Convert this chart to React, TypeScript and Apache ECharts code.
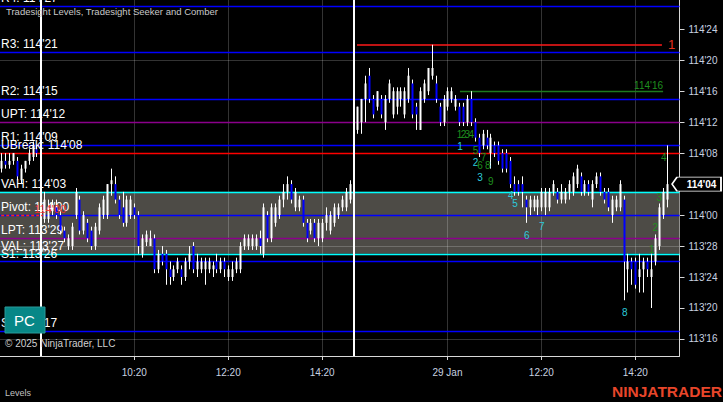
import React, { useEffect, useRef } from "react";
import * as echarts from "echarts";

// Prices are stored as 32nds above the 113 handle (113'00 = 0, 114'00 = 32)
const HANDLE = 113;

const OPEN = [
  38, 39, 38.5, 39, 39, 36.5, 38, 39, 39.5, 40.5,
  null, 31.5, 31.5, 32.5, 33, 32, 30, 28, 28, 32,
  34, 30, 31, 30, 28, 30, 32, 32, 36, 36,
  34, 33, 31, 32, 33, 32, 27, 28.5, 28, 29,
  25, 27, 27, 25, 24, 25, 25, 24, 26, 28,
  25, 25, 25, 25, 25, 26, 25, 26, 24, 24,
  25, 25, 28, 28, 28, 28, 29, 27, 32, 29,
  31, 32, 34, 35, 36, 33, 33, 34, 31, 30,
  31, 29, 29, 31, 30, 31, 32, 33, 33, 34,
  null, 43, 44, 47, 50, 47, 46, 47, 44, 47,
  45, 46, 47, 45, 47, 49, 46, 43, 47, 48,
  50, 49, 46, 44, 46, 47, 46, 46, 46, 44,
  47, 44, 42, 41, 42, 40, 41, 41, 40, 40,
  39, 36, 36, 36, 34, 33, 33, 33, 33, 33,
  33, 35, 35, 34, 34, 35, 35, 36, 37, 35,
  36, 34, 36, 37, 35, 35, 32, 33, 33, 34,
  25, 26, 26, 24, 25, 26, 24, 26, 28, 32,
  34,
];
const HIGH = [
  40, 40, 40, 40, 39.5, 38.5, 39, 40.5, 41.5, 41,
  null, 35, 34, 34, 34, 32.5, 30.5, 29.5, 31, 35.5,
  34.5, 32.5, 31.5, 30.5, 31, 33.5, 34.5, 36, 38, 37,
  34.5, 35, 34.5, 34.5, 33.5, 32.5, 29.5, 30, 30, 29.5,
  27.5, 28, 27.5, 26, 25.5, 26.5, 25.5, 26.5, 28, 28.5,
  27, 26.5, 26.5, 26.5, 26, 27, 26.5, 26.5, 25.5, 26,
  26.5, 28.5, 29.5, 29.5, 29.5, 29.5, 30, 33.5, 32.5, 33.5,
  33.5, 34.5, 36, 37, 36.5, 35.5, 34.5, 34.5, 31.5, 31.5,
  31.5, 31.5, 31.5, 33, 32.5, 33.5, 33.5, 34.5, 35.5, 36.5,
  null, 46, 47, 50, 51, 47.5, 48, 47.5, 47.5, 49.5,
  48.5, 48.5, 48.5, 48.5, 51, 49.5, 46.5, 48.5, 49.5, 51,
  54, 50, 46.5, 47.5, 48.5, 48.5, 47.5, 46.5, 46.5, 47.5,
  48, 44.5, 42.5, 43, 43, 42.5, 41.5, 41.5, 40.5, 40.5,
  39.5, 37, 36.5, 37, 34.5, 34.5, 34.5, 34.5, 35.5, 35.5,
  35.5, 36.5, 35.5, 36, 35.5, 36.5, 37.5, 38.5, 37.5, 36.5,
  36.5, 36.5, 37.5, 37.5, 35.5, 35.5, 34.5, 34.5, 36.5, 34.5,
  27, 26.5, 26.5, 27, 26.5, 26.5, 27, 29.5, 33.5, 35.5,
  41,
];
const LOW = [
  37.5, 38, 38, 38.5, 36.5, 36, 37.5, 38.5, 39, 39.5,
  null, 31, 31, 32, 31.5, 29.5, 28.5, 27.5, 27.5, 31.5,
  29.5, 29.5, 28.5, 27.5, 27.5, 29.5, 31.5, 31.5, 34.5, 33.5,
  31.5, 30.5, 30.5, 31.5, 31.5, 27, 26.5, 28, 28, 24.5,
  24.5, 25.5, 23, 23, 23.5, 24.5, 23, 23.5, 25, 24.5,
  24, 24.5, 23, 24.5, 24, 24.5, 24.5, 24, 23.5, 23.5,
  24.5, 24.5, 27.5, 27.5, 27.5, 27.5, 27, 26.5, 28.5, 28.5,
  30.5, 31.5, 33, 34, 33.5, 32.5, 32.5, 30.5, 28.5, 29.5,
  28.5, 28, 28.5, 30, 29.5, 30.5, 31.5, 32.5, 32.5, 33.5,
  null, 42.5, 42.5, 44, 46.5, 44.5, 45.5, 44.5, 43, 46.5,
  44.5, 45, 46, 44.5, 46.5, 44.5, 43, 43, 46.5, 47.5,
  49.5, 46.5, 43.5, 43.5, 45.5, 46.5, 45.5, 43.5, 43.5, 43.5,
  43.5, 41.5, 39.5, 40.5, 40.5, 38, 39.5, 38.5, 37.5, 37.5,
  35.5, 34.5, 34.5, 33, 31, 32, 32.5, 32, 32.5, 32,
  32.5, 34.5, 33.5, 33.5, 33.5, 34, 34.5, 35.5, 34.5, 34.5,
  34.5, 33, 35.5, 34.5, 33.5, 32.5, 31, 32.5, 32.5, 21,
  22, 23, 22.5, 22, 22, 24, 20, 25.5, 27.5, 31.5,
  33,
];
const CLOSE = [
  39, 38.5, 39, 40, 37, 38, 39, 40, 41, 40,
  null, 34, 33, 33.5, 32, 30, 29, 29, 30.5, 35,
  30, 32, 29, 28, 30.5, 33, 34, 36, 36.5, 34,
  32, 31, 34, 34, 32, 28, 29, 29.5, 29, 25,
  27, 26, 25, 24, 25, 26, 24, 26, 27, 25,
  26, 26, 26, 26, 25.5, 25, 26, 25, 25, 25,
  26, 28, 29, 29, 29, 29, 28, 33, 29, 33,
  33, 34, 35, 36, 34, 35, 34, 31, 29, 31,
  29, 31, 31, 32, 32, 33, 33, 34, 35, 36,
  null, 46, 47, 49, 47, 45, 48, 45, 47, 49,
  48, 48, 48, 48, 50, 45, 45, 48, 49, 51,
  51, 47, 44, 47, 48, 48, 47, 44, 44, 47,
  44, 42, 40, 42.5, 41, 42, 40, 39, 38, 38,
  36, 35, 35, 35, 33, 34, 34, 34, 35, 35,
  35, 36, 34, 35, 35, 36, 37, 38, 35, 36,
  35, 36, 37, 35, 34, 33, 34, 34, 36, 26,
  26, 25, 23, 25, 26, 25, 25, 29, 33, 35,
  36,
];

const TIME_TICKS = [34, 58, 82, 114, 138, 162];
const TIME_LABELS = ["10:20", "12:20", "14:20", "29 Jan", "12:20", "14:20"];
const SESSION_BREAKS = [10, 90];
const PRICE_TICKS = [16, 20, 24, 28, 32, 36, 40, 44, 48, 52, 56];
const GRID_PRICES = [16, 28, 40, 52];

const LEVEL_NAMES = ["R4", "R3", "R2", "UPT", "R1", "UBreak", "VAH", "Pivot", "LPT", "VAL", "S1", "S2"];
const LEVEL_VALUES = [59, 53, 47, 44, 41, 40, 35, 32, 29, 27, 26, 17];
const LEVEL_COLORS = ["#0000ff", "#0000ff", "#0000ff", "#8b008b", "#0000ff", "#ff0000", "#00ffff", "#0000ff", "#8b008b", "#00ffff", "#0000ff", "#0000ff"];

const SESSION_HIGH = 54;
const SESSION_HIGH_SPAN = [90.9, 168.8];
const SESSION_HIGH_COUNT = "1";
const TARGET_PRICE = 48;
const TARGET_SPAN = [117.2, 169.1];
const PREV_PIVOT = 32;
const PREV_PIVOT_SPAN = [0, 10.7];
const PREV_PIVOT_LABEL_AT = [12.5, 32.8];

const ANNOT_TEXT = ["1", "2", "3", "4", "1", "5", "7", "2", "6", "8", "3", "9", "4", "5", "6", "7", "8", "4", "3", "2", "1"];
const ANNOT_X = [117.1, 118.1, 119.1, 120.1, 117.2, 121.2, 123.2, 121.2, 122.3, 124.3, 122.3, 125.1, 130.2, 131.3, 134.3, 138.1, 159.3, 169.3, 168.1, 167.1, 166.2];
const ANNOT_Y = [42.4, 42.4, 42.4, 42.4, 40.9, 40.4, 39.5, 38.8, 38.4, 38.4, 36.9, 36.4, 34.5, 33.5, 29.4, 30.5, 19.4, 39.5, 34.3, 30.4, 27.6];
const ANNOT_KIND = ["g", "g", "g", "g", "c", "g", "g", "c", "g", "g", "c", "g", "c", "c", "c", "c", "c", "g", "g", "g", "g"];

const X_MIN = -0.31;
const X_MAX = 173.29;
const Y_MIN = 13.8;
const Y_MAX = 59.78;

const FONT = '"Liberation Sans", Arial, sans-serif';
const GREEN = "#1f8f1f";
const CYAN = "#2ccbdc";

function fmt32(v: number): string {
  const total = HANDLE * 32 + v;
  const whole = Math.floor(total / 32);
  const frac = Math.round(total - whole * 32);
  return `${whole}'${String(frac).padStart(2, "0")}`;
}

export default function App() {
  const ref = useRef<HTMLDivElement>(null);

  useEffect(() => {
    document.body.style.margin = "0";
    document.body.style.background = "#000";
    if (!ref.current) return;
    const chart = echarts.init(ref.current, null, { renderer: "svg" });

    const bars: number[][] = [];
    for (let i = 0; i < OPEN.length; i++) {
      if (OPEN[i] == null) continue;
      bars.push([i, OPEN[i] as number, CLOSE[i] as number, LOW[i] as number, HIGH[i] as number]);
    }
    const lastClose = CLOSE[CLOSE.length - 1] as number;
    const vah = LEVEL_VALUES[LEVEL_NAMES.indexOf("VAH")];
    const val = LEVEL_VALUES[LEVEL_NAMES.indexOf("VAL")];

    const levelLines: any[] = LEVEL_NAMES.map((n, k) => ({
      yAxis: LEVEL_VALUES[k],
      lineStyle: { color: LEVEL_COLORS[k], width: 1.3, type: "solid" },
      label: {
        show: true,
        position: "insideStartTop",
        formatter: `${n}: ${fmt32(LEVEL_VALUES[k])}`,
        color: "#ffffff",
        fontSize: 12,
        fontFamily: FONT,
        distance: [1, 2],
      },
    }));
    SESSION_BREAKS.forEach((b) =>
      levelLines.push({ xAxis: b, lineStyle: { color: "#ffffff", width: 2, type: "solid" }, label: { show: false } })
    );
    levelLines.push([
      {
        coord: [SESSION_HIGH_SPAN[0], SESSION_HIGH],
        lineStyle: { color: "#ff1a1a", width: 1.5, type: "solid" },
        label: { show: true, position: "end", formatter: SESSION_HIGH_COUNT, color: "#e8301c", fontSize: 13, fontFamily: FONT, distance: 6 },
      },
      { coord: [SESSION_HIGH_SPAN[1], SESSION_HIGH] },
    ]);
    levelLines.push([
      {
        coord: [TARGET_SPAN[0], TARGET_PRICE],
        lineStyle: { color: "#1c7a1c", width: 1.3, type: "solid" },
        label: { show: true, position: "insideEndTop", formatter: fmt32(TARGET_PRICE), color: GREEN, fontSize: 10, fontFamily: FONT, distance: [0, 1] },
      },
      { coord: [TARGET_SPAN[1], TARGET_PRICE] },
    ]);
    levelLines.push([
      {
        coord: [PREV_PIVOT_SPAN[0], PREV_PIVOT],
        lineStyle: { color: "#ff2020", width: 1.3, type: [3, 2] },
        label: { show: false },
      },
      { coord: [PREV_PIVOT_SPAN[1], PREV_PIVOT] },
    ]);

    const annots: any[] = ANNOT_TEXT.map((t, k) => [ANNOT_X[k], ANNOT_Y[k], k]);
    annots.push([PREV_PIVOT_LABEL_AT[0], PREV_PIVOT_LABEL_AT[1], -1]);

    const option: any = {
      animation: false,
      backgroundColor: "#000000",
      grid: { left: 0, right: 43.5, top: 0, bottom: 46 },
      xAxis: {
        type: "value",
        min: X_MIN,
        max: X_MAX,
        splitLine: { show: false },
        axisLine: { show: true, onZero: false, lineStyle: { color: "#d8d8d8", width: 1 } },
        axisTick: { show: true, customValues: TIME_TICKS, length: 4, lineStyle: { color: "#d8d8d8" } },
        axisLabel: {
          customValues: TIME_TICKS,
          formatter: (v: number) => {
            const k = TIME_TICKS.indexOf(Math.round(v));
            return k >= 0 ? TIME_LABELS[k] : "";
          },
          color: "#c8d2e0",
          fontSize: 10,
          fontFamily: FONT,
          margin: 11,
        },
      },
      yAxis: {
        type: "value",
        position: "right",
        min: Y_MIN,
        max: Y_MAX,
        splitLine: { show: false },
        axisLine: { show: true, onZero: false, lineStyle: { color: "#d8d8d8", width: 1 } },
        axisTick: { show: true, customValues: PRICE_TICKS.filter((p) => p !== lastClose), length: 5, lineStyle: { color: "#d8d8d8" } },
        axisLabel: {
          customValues: PRICE_TICKS.filter((p) => p !== lastClose),
          formatter: (v: number) => fmt32(v),
          color: "#c8d2e0",
          fontSize: 10,
          fontFamily: FONT,
          margin: 9,
        },
      },
      graphic: [
        {
          type: "text",
          x: 6,
          y: 11,
          z: 100,
          style: { text: "Tradesight Levels, Tradesight Seeker and Comber", fill: "#c8c8c8", font: `9.5px ${FONT}`, verticalAlign: "middle" },
        },
        {
          type: "text",
          x: 5,
          y: 343,
          z: 100,
          style: { text: "© 2025 NinjaTrader, LLC", fill: "#d0d0d0", font: `10px ${FONT}`, verticalAlign: "middle" },
        },
        {
          type: "rect",
          z: 100,
          shape: { x: 5, y: 307, width: 40, height: 26 },
          style: { fill: "#078787", stroke: "#2a9a9a", lineWidth: 1 },
        },
        {
          type: "text",
          x: 24.5,
          y: 320,
          z: 101,
          style: { text: "PC", fill: "#ffffff", font: `15px ${FONT}`, align: "center", verticalAlign: "middle" },
        },
        {
          type: "text",
          x: 5,
          y: 393,
          z: 100,
          style: { text: "Levels", fill: "#c0c0c0", font: `9px ${FONT}`, verticalAlign: "middle" },
        },
        {
          type: "text",
          x: 722,
          y: 391,
          z: 100,
          style: { text: "NINJATRADER", fill: "#e8462a", font: `bold 15.5px ${FONT}`, align: "right", verticalAlign: "middle" },
        },
      ],
      series: [
        {
          type: "line",
          data: [],
          z: 1,
          markArea: {
            silent: true,
            z: 1,
            itemStyle: { color: "#4d4b46" },
            data: [[{ yAxis: vah }, { yAxis: val }]],
          },
        },
        {
          type: "line",
          data: [],
          z: 2,
          markLine: {
            silent: true,
            z: 2,
            symbol: ["none", "none"],
            label: { show: false },
            lineStyle: { color: "rgba(255,255,255,0.2)", width: 1, type: "solid" },
            data: [...GRID_PRICES.map((p) => ({ yAxis: p })), ...TIME_TICKS.map((t) => ({ xAxis: t }))],
          },
        },
        {
          type: "line",
          data: [],
          z: 3,
          markLine: {
            silent: true,
            z: 3,
            symbol: ["none", "none"],
            data: levelLines,
          },
        },
        {
          type: "custom",
          z: 4,
          data: bars,
          encode: { x: 0, y: [1, 2, 3, 4] },
          renderItem: (params: any, api: any) => {
            const i = api.value(0);
            const o = api.value(1);
            const c = api.value(2);
            const l = api.value(3);
            const h = api.value(4);
            const pH = api.coord([i, h]);
            const pL = api.coord([i, l]);
            const pO = api.coord([i, o]);
            const pC = api.coord([i, c]);
            const xi = Math.round(pH[0]);
            const up = c >= o;
            const top = Math.min(pO[1], pC[1]);
            const hgt = Math.max(Math.abs(pO[1] - pC[1]), 1.5);
            return {
              type: "group",
              children: [
                { type: "line", shape: { x1: xi + 0.5, y1: pH[1], x2: xi + 0.5, y2: pL[1] }, style: { stroke: "#ffffff", lineWidth: 1 } },
                { type: "rect", shape: { x: xi - 0.5, y: top, width: 2, height: hgt }, style: { fill: up ? "#ffffff" : "#0000ff" } },
              ],
            };
          },
          markPoint: {
            silent: true,
            z: 6,
            data: [
              {
                coord: [X_MAX, lastClose],
                symbol: "path://M0,7 L5,0 L49,0 L49,14 L5,14 Z",
                symbolSize: [49, 14],
                symbolKeepAspect: false,
                symbolOffset: [17, 0],
                itemStyle: { color: "#000000", borderColor: "#ffffff", borderWidth: 1 },
                label: {
                  show: true,
                  position: "inside",
                  formatter: fmt32(lastClose),
                  color: "#ffffff",
                  fontSize: 10,
                  fontWeight: "bold",
                  fontFamily: FONT,
                  offset: [5, 0],
                },
              },
            ],
          },
        },
        {
          type: "custom",
          z: 5,
          data: annots,
          renderItem: (params: any, api: any) => {
            const p = api.coord([api.value(0), api.value(1)]);
            const k = api.value(2);
            if (k < 0) {
              return {
                type: "text",
                x: p[0],
                y: p[1],
                style: { text: fmt32(PREV_PIVOT), fill: "#ff2a2a", font: `11px ${FONT}`, align: "center", verticalAlign: "middle", opacity: 0.9 },
              };
            }
            return {
              type: "text",
              x: p[0],
              y: p[1],
              style: {
                text: ANNOT_TEXT[k],
                fill: ANNOT_KIND[k] === "g" ? GREEN : CYAN,
                font: `10px ${FONT}`,
                align: "center",
                verticalAlign: "middle",
              },
            };
          },
        },
      ],
    };

    chart.setOption(option);
    return () => chart.dispose();
  }, []);

  return <div ref={ref} style={{ width: 723, height: 402, background: "#000" }} />;
}
